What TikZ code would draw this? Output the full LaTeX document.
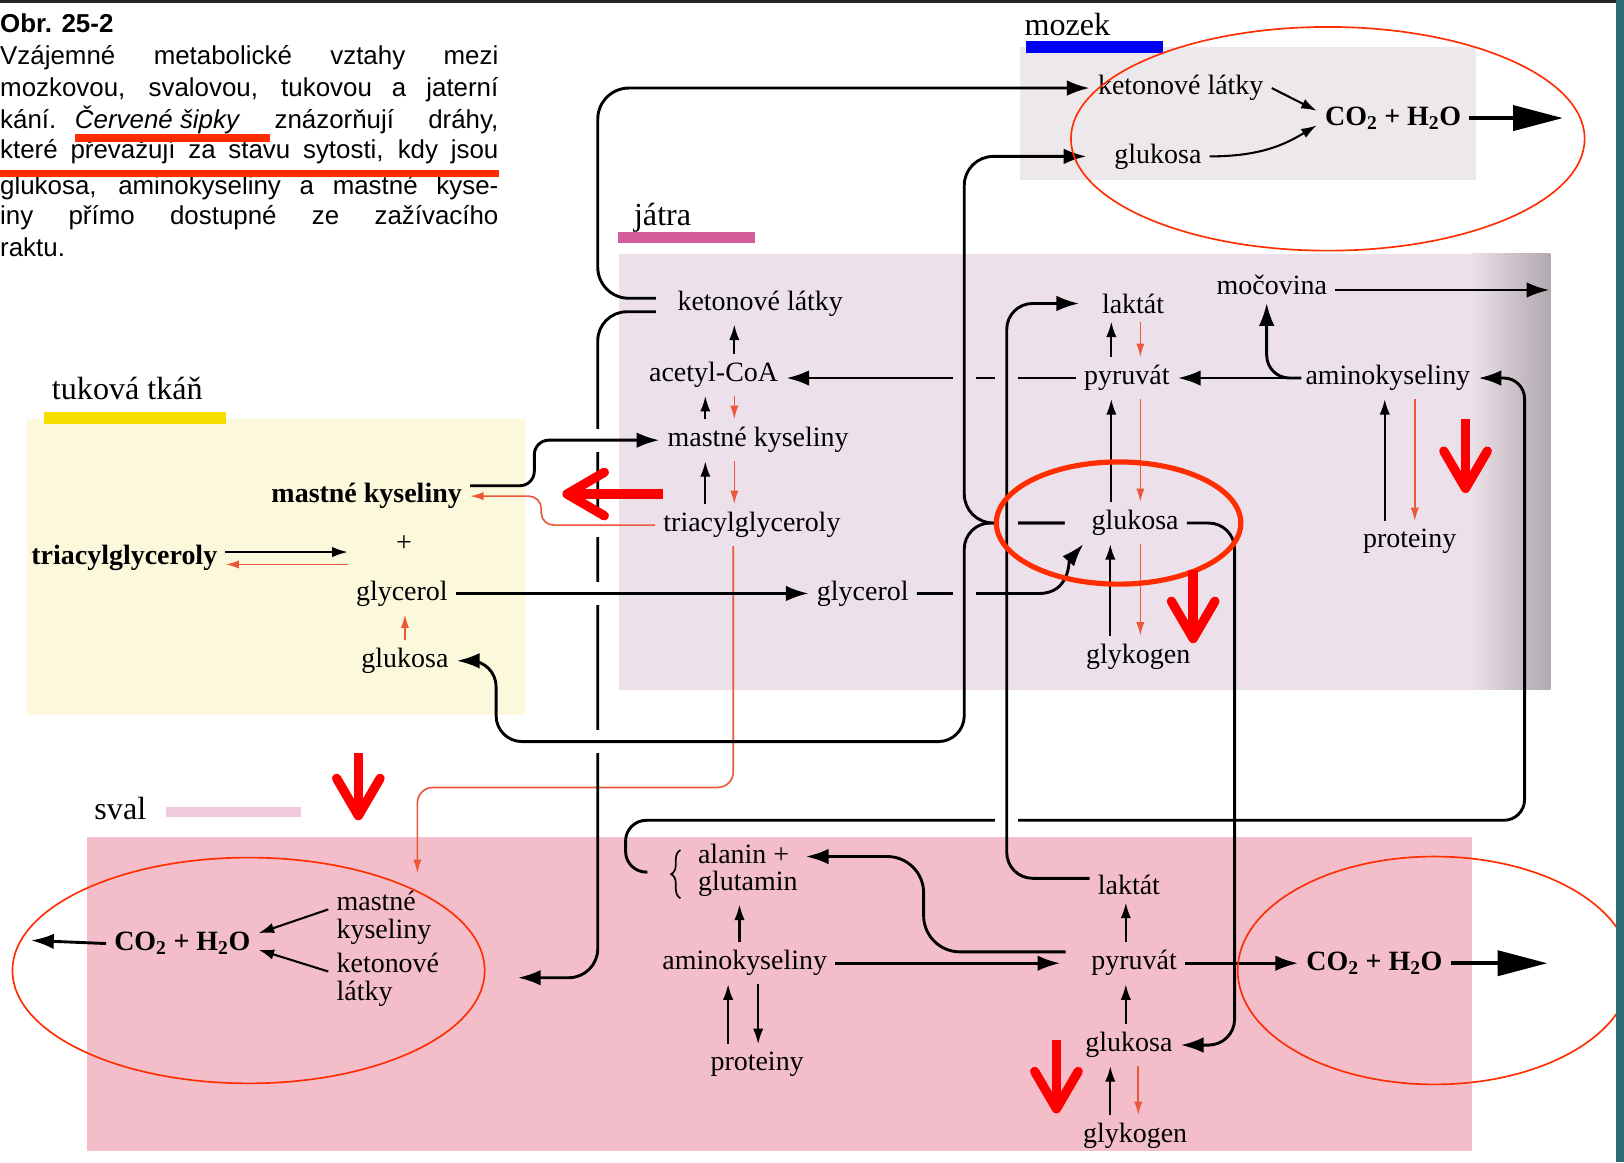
\documentclass[tikz,border=0pt]{standalone}
\usepackage{fontspec}
\setmainfont{Liberation Serif}
\setsansfont{Liberation Sans}
\usetikzlibrary{arrows.meta,decorations.pathreplacing}

\definecolor{brainbg}{RGB}{237,232,235}
\definecolor{liverbg}{RGB}{236,225,234}
\definecolor{liverdark}{RGB}{176,169,174}
\definecolor{fatbg}{RGB}{251,248,220}
\definecolor{musclebg}{RGB}{243,190,202}
\definecolor{brainbar}{RGB}{0,0,245}
\definecolor{liverbar}{RGB}{212,92,152}
\definecolor{fatbar}{RGB}{248,222,0}
\definecolor{musclebar}{RGB}{238,202,220}
\definecolor{fedred}{RGB}{236,88,58}
\definecolor{markred}{RGB}{255,45,0}
\definecolor{frameteal}{RGB}{46,108,116}

\begin{document}
\begin{tikzpicture}[x=1pt,y=-1pt]
	 \tikzstyle{met}=[font=\fontsize{27}{27}\selectfont, inner sep=2pt, outer sep=6pt]
	 \tikzstyle{gas}=[met, font=\fontsize{27}{27}\selectfont\bfseries]
	 \tikzstyle{organ}=[font=\fontsize{31}{31}\selectfont, inner sep=0pt, anchor=west]
	 \tikzstyle{capline}=[font=\sffamily\fontsize{25}{30}\selectfont, inner sep=0pt, anchor=west]
	 \tikzstyle{link}=[draw, line width=2.8pt, -{Latex[length=22pt,width=15pt]}]
	 \tikzstyle{thinarrow}=[draw, line width=2pt, -{Latex[length=15pt,width=10pt]}]
	 \tikzstyle{fed}=[draw=fedred, line width=1.6pt, -{Latex[length=13pt,width=8pt]}]
	 \tikzstyle{outflow}=[draw, line width=4pt, -{Triangle[length=48pt,width=24pt]}]
	 \tikzstyle{hint}=[draw=red, line width=9pt, -{Straight Barb[length=36pt,width=42pt,round]}]
	 \tikzstyle{ring}=[draw=markred, line width=1.6pt]
	 \useasboundingbox (0,0) rectangle (1568,1122);
	 \fill[white] (0,0) rectangle (1568,1122);
	 % panels
	 \fill[brainbg] (985,45) rectangle (1425,174);
	 \fill[liverbg] (598,245) rectangle (1497,666);
	 \shade[left color=liverbg, right color=liverdark] (1420,245) rectangle (1497,666);
	 \fill[fatbg] (26,405) rectangle (507,690);
	 \fill[musclebg] (84,808) rectangle (1421,1111);
	 % organ labels
	 \node[organ] (brain) at (989,24) {mozek};
	 \fill[brainbar] (991,40) rectangle (1123,51);
	 \node[organ] (liver) at (612,210) {játra};
	 \fill[liverbar] (597,224) rectangle (729,235);
	 \node[organ] (fat) at (50,375) {tuková tkáň};
	 \fill[fatbar] (42,398) rectangle (218,409);
	 \node[organ] (muscle) at (91,781) {sval};
	 \fill[musclebar] (160,779) rectangle (291,789);
	 % caption
	 \node[capline, font=\sffamily\bfseries\fontsize{25}{30}\selectfont] (cap0) at (0,22) {Obr. 25-2};
	 \node[capline] (cap1) at (0,56) {\makebox[481pt][s]{Vzájemné metabolické vztahy mezi}};
	 \node[capline] (cap2) at (0,87) {\makebox[481pt][s]{mozkovou, svalovou, tukovou a jaterní}};
	 \node[capline] (cap3) at (0,116) {\makebox[481pt][s]{kání.\hspace{18pt}\textit{Červené šipky}\hfill znázorňují\hfill dráhy,}};
	 \node[capline] (cap4) at (0,146) {\makebox[481pt][s]{které převažují za stavu sytosti, kdy jsou}};
	 \node[capline] (cap5) at (0,181) {\makebox[481pt][s]{glukosa, aminokyseliny a mastné kyse-}};
	 \node[capline] (cap6) at (0,210) {\makebox[481pt][s]{iny přímo dostupné ze zažívacího}};
	 \node[capline] (cap7) at (0,239) {raktu.};
	 \fill[markred] (72,129) rectangle (261,137);
	 \fill[markred] (0,164) rectangle (482,171);
	 % brain
	 \node[met] (mketo) at (1140,85) {ketonové látky};
	 \node[met] (mglc) at (1118,151) {glukosa};
	 \node[gas] (mco) at (1345,114) {CO\textsubscript{2} + H\textsubscript{2}O};
	 \coordinate (brainout) at (1509,114);
	 % liver
	 \node[met] (jketo) at (734,293) {ketonové látky};
	 \node[met] (jacoa) at (689,362) {acetyl-CoA};
	 \node[met] (jmk) at (732,425) {mastné kyseliny};
	 \node[met] (jtag) at (726,507) {triacylglyceroly};
	 \node[met] (jglyc) at (833,573) {glycerol};
	 \node[met] (jmoc) at (1228,275) {močovina};
	 \node[met] (jlak) at (1094,293) {laktát};
	 \node[met] (jpyr) at (1088,365) {pyruvát};
	 \node[met] (jak) at (1340,365) {aminokyseliny};
	 \node[met] (jglc) at (1096,505) {glukosa};
	 \node[met] (jprot) at (1361,523) {proteiny};
	 \node[met] (jgly) at (1099,634) {glykogen};
	 \coordinate (urea) at (1496,280);
	 % fat
	 \node[met, font=\fontsize{27}{27}\selectfont\bfseries] (tmk) at (354,479) {mastné kyseliny};
	 \node[met] (tplus) at (390,525) {+};
	 \node[met, font=\fontsize{27}{27}\selectfont\bfseries] (ttag) at (120,539) {triacylglyceroly};
	 \node[met] (tglyc) at (388,573) {glycerol};
	 \node[met] (tglc) at (391,638) {glukosa};
	 % muscle
	 \node[met, anchor=west, align=left, font=\fontsize{27}{26}\selectfont] (salg) at (666,840) {alanin +\\glutamin};
	 \node[met] (sak) at (719,930) {aminokyseliny};
	 \node[met] (sprot) at (731,1028) {proteiny};
	 \node[met] (slak) at (1090,854) {laktát};
	 \node[met] (spyr) at (1095,930) {pyruvát};
	 \node[met] (sglc) at (1090,1009) {glukosa};
	 \node[met] (sgly) at (1096,1097) {glykogen};
	 \node[gas] (sco) at (1327,930) {CO\textsubscript{2} + H\textsubscript{2}O};
	 \coordinate (muscleout) at (1494,930);
	 \node[met, anchor=west, align=left] (smk) at (317,886) {mastné\\kyseliny};
	 \node[met, anchor=west, align=left] (sket) at (317,946) {ketonové\\látky};
	 \node[gas] (sco2) at (176,911) {CO\textsubscript{2} + H\textsubscript{2}O};
	 \coordinate (muscleout2) at (30,908);
	 \coordinate (smkin) at (403,843);
	 \coordinate (sketin) at (500,944);
	 \draw[line width=1.6pt, decorate, decoration={brace, amplitude=9pt}]
	    ([xshift=-9pt,yshift=6pt]salg.south west) -- ([xshift=-9pt,yshift=-14pt]salg.north west);
	 % red path from the liver fat to the muscle
	 \draw[fed, rounded corners=15pt] ([xshift=-18pt]jtag.south) -- ++(0,233) -| (smkin);
	 % ketone bodies leave the liver
	 \draw[link, rounded corners=30pt] ([xshift=-13pt,yshift=5pt]jketo.west) -- ++(-56,0) |- (mketo.west);
	 \draw[link, rounded corners=28pt] ([xshift=-13pt,yshift=-8pt]jketo.west) -- ++(-56,0) |- (sketin);
	 \fill[white] (572,414) rectangle (580,436);
	 \fill[white] (572,496) rectangle (580,518);
	 \fill[white] (572,562) rectangle (580,584);
	 \fill[white] (572,705) rectangle (580,727);
	 % fat tissue
	 \draw[thinarrow] ([yshift=6pt]ttag.east) -- ([yshift=6pt]ttag.east -| tglyc.west);
	 \draw[fed] ([yshift=-6pt]ttag.east -| tglyc.west) -- ([yshift=-6pt]ttag.east);
	 \draw[fed] (tglc.north) -- (tglc.north |- tglyc.south);
	 \draw[link, rounded corners=14pt] ([yshift=10pt]tmk.east) -- ++(62,0) |- (jmk.west);
	 \draw[fed, rounded corners=12pt] (jtag.west) -- ++(-110,0) |- (tmk.east);
	 \draw[link] (tglyc.east) -- (jglyc.west);
	 % liver
	 \draw[thinarrow] ([xshift=20pt]jacoa.north) -- ([xshift=20pt]jacoa.north |- jketo.south);
	 \draw[thinarrow] ([xshift=-51pt]jmk.north) -- ([xshift=-51pt]jmk.north |- jacoa.south);
	 \draw[fed] ([xshift=-23pt]jmk.north |- jacoa.south) -- ([xshift=-23pt]jmk.north);
	 \draw[thinarrow] ([xshift=-45pt]jtag.north) -- ([xshift=-45pt]jtag.north |- jmk.south);
	 \draw[fed] ([xshift=-17pt]jtag.north |- jmk.south) -- ([xshift=-17pt]jtag.north);
	 \draw[link] (jpyr.west) -- (jpyr.west -| jacoa.east);
	 \draw[thinarrow] ([xshift=-15pt]jpyr.north) -- ([xshift=-15pt]jpyr.north |- jlak.south);
	 \draw[fed] ([xshift=13pt]jpyr.north |- jlak.south) -- ([xshift=13pt]jpyr.north);
	 \draw[thinarrow] ([xshift=-23pt]jglc.north) -- ([xshift=-23pt]jglc.north |- jpyr.south);
	 \draw[fed] ([xshift=5pt]jglc.north |- jpyr.south) -- ([xshift=5pt]jglc.north);
	 \draw[thinarrow] ([xshift=-27pt]jgly.north) -- ([xshift=-27pt]jgly.north |- jglc.south);
	 \draw[fed] ([xshift=2pt]jgly.north |- jglc.south) -- ([xshift=2pt]jgly.north);
	 \draw[link] (jak.west) -- (jpyr.east);
	 \draw[link, rounded corners=22pt] ([xshift=4pt]jak.west) -| ([xshift=-5pt]jmoc.south);
	 \draw[link] ([yshift=-5pt]jmoc.east) -- (urea);
	 \draw[thinarrow] ([xshift=-24pt]jprot.north) -- ([xshift=-24pt]jprot.north |- jak.south);
	 \draw[fed] ([xshift=5pt]jprot.north |- jak.south) -- ([xshift=5pt]jprot.north);
	 \draw[link] (jglyc.east) -- ++(118,0) .. controls +(30,0) and +(-14,16) .. (jglc.south west);
	 \draw[link, rounded corners=25pt] (jglc.east) -- ++(46,0) |- (sglc.east);
	 \draw[link, rounded corners=20pt] ([xshift=-41pt,yshift=-2pt]salg.west) -- ++(-21,0) |- (1472,792) |- (jak.east);
	 % gaps where the long lines pass over
	 \fill[liverbg] (920,361) rectangle (942,369);
	 \fill[liverbg] (961,361) rectangle (983,369);
	 \fill[liverbg] (920,569) rectangle (942,577);
	 \fill[white] (961,788) rectangle (983,796);
	 \draw[link, rounded corners=28pt] ([xshift=-18pt]jglc.west) -- ++(-97,0) |- ([xshift=-19pt]mglc.west);
	 \draw[link, rounded corners=25pt] ([xshift=-18pt]jglc.west) -- ++(-97,0) -- ++(0,211) -| ([xshift=38pt]tglc.east) -- (tglc.east);
	 \fill[liverbg] (961,501) rectangle (983,509);
	 \draw[link, rounded corners=25pt] ([yshift=6pt]slak.west) -- ++(-80,0) |- ([xshift=-14pt]jlak.west);
	 % muscle
	 \draw[thinarrow] ([xshift=-5pt]sak.north) -- ([xshift=-5pt]sak.north |- salg.south);
	 \draw[link] (sak.east) -- ([xshift=-22pt]spyr.west);
	 \draw[link, rounded corners=35pt] ([xshift=-17pt,yshift=11pt]spyr.west) -- ++(-137,0) |- ([yshift=13pt]salg.east);
	 \draw[thinarrow] ([xshift=-28pt]sprot.north) -- ([xshift=-28pt]sprot.north |- sak.south);
	 \draw[thinarrow] ([xshift=1pt]sprot.north |- sak.south) -- ([xshift=1pt]sprot.north);
	 \draw[thinarrow] ([xshift=-8pt]spyr.north) -- ([xshift=-8pt]spyr.north |- slak.south);
	 \draw[thinarrow] ([xshift=-3pt]sglc.north) -- ([xshift=-3pt]sglc.north |- spyr.south);
	 \draw[thinarrow] ([xshift=-24pt]sgly.north) -- ([xshift=-24pt]sgly.north |- sglc.south);
	 \draw[fed] ([xshift=3pt]sgly.north |- sglc.south) -- ([xshift=3pt]sgly.north);
	 \draw[link] (spyr.east) -- (sco.west);
	 \draw[outflow] (sco.east) -- (muscleout);
	 \draw[thinarrow] ([yshift=8pt]smk.west) -- ([yshift=10pt]sco2.east);
	 \draw[thinarrow] ([yshift=8pt]sket.west) -- ([yshift=-6pt]sco2.east);
	 \draw[link] (sco2.west) -- (muscleout2);
	 % brain
	 \draw[thinarrow] (mketo.east) -- ([yshift=7pt]mco.west);
	 \draw[thinarrow] (mglc.east) .. controls +(50,0) and +(-30,18) .. ([yshift=-7pt]mco.west);
	 \draw[outflow] (mco.east) -- (brainout);
	 % highlights
	 \draw[ring] (1282,134) ellipse [x radius=248, y radius=108];
	 \draw[ring] (240,937) ellipse [x radius=228, y radius=109];
	 \draw[ring] (1385,937) ellipse [x radius=190, y radius=110];
	 \draw[ring, line width=5pt] (1080,505) ellipse [x radius=118, y radius=59];
	 \draw[hint] (640,477) -- (543,477);
	 \draw[hint] (1415,405) -- (1415,476);
	 \draw[hint] (1152,550) -- (1152,621);
	 \draw[hint] (346,727) -- (346,792);
	 \draw[hint] (1020,1004) -- (1020,1075);
	 % frame
	 \fill[black!85] (0,0) rectangle (1568,3);
	 \fill[frameteal] (1560,0) rectangle (1568,1122);
\end{tikzpicture}
\end{document}
